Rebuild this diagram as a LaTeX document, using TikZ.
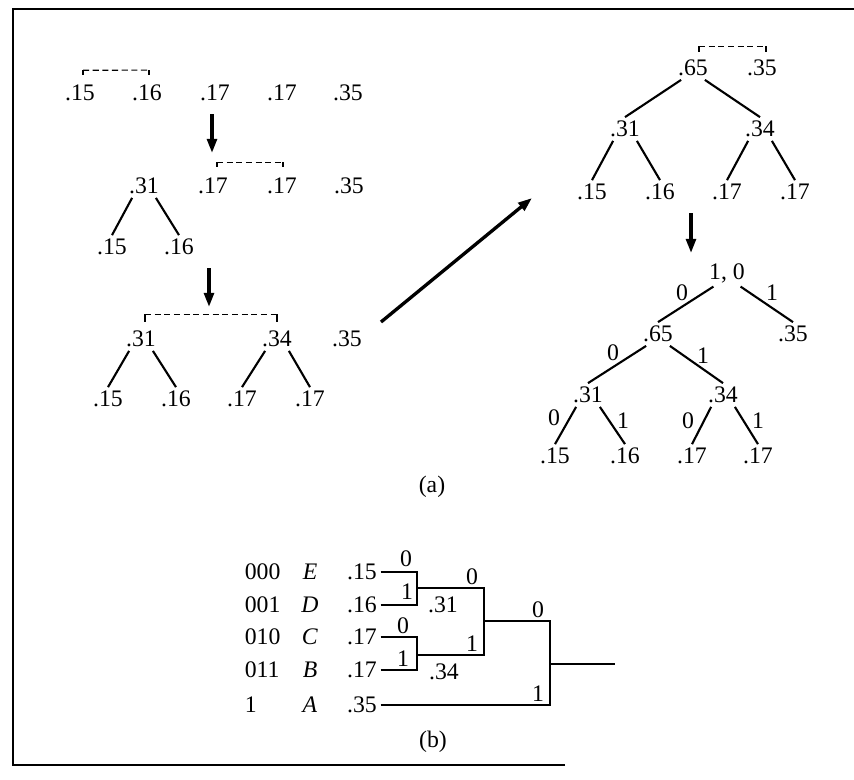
\documentclass[tikz,border=0pt]{standalone}
\usepackage{fontspec}
\setmainfont{Liberation Serif}
\usetikzlibrary{arrows.meta,calc,positioning}

\begin{document}
\begin{tikzpicture}[x=0.02cm, y=-0.02cm,
    num/.style={font=\fontsize{13.5}{16}\selectfont, inner sep=2pt},
    bit/.style={font=\fontsize{13.5}{16}\selectfont, inner sep=1pt},
    branch/.style={line width=1.2pt},
    wire/.style={line width=1.3pt},
    tickline/.style={line width=0.7pt},
    grp/.style={line width=0.7pt, dash pattern=on 3.5pt off 2pt},
    steparrow/.style={-{Triangle[length=8pt,width=5.5pt]}, line width=1.9pt}
]
  \useasboundingbox (0,0) rectangle (854,779);
  % frame
  \draw[line width=1.2pt] (565,765) -- (13,765) -- (13,9) -- (854,9);

  % (a) left: first step
  \node[num, name=a15] at (80,93) {.15};
  \node[num, name=a16] at (147,93) {.16};
  \node[num, name=a17] at (215,93) {.17};
  \node[num, name=a17b] at (282,93) {.17};
  \node[num, name=a35] at (348,93) {.35};
  \coordinate (g1l) at ($(a15.north)+(3,-11)$);
  \coordinate (g1r) at ($(a16.north)+(2,-11)$);
  \draw[grp] (g1l) -- (g1r);
  \draw[tickline] (g1l) -- ++(0,5) (g1r) -- ++(0,5);

  \coordinate (s1) at (212,114);
  \coordinate (e1) at (212,153);
  \draw[steparrow] (s1) -- (e1);

  % second step
  \node[num, name=b31] at (144,186) {.31};
  \node[num, name=b17] at (213,186) {.17};
  \node[num, name=b17b] at (282,186) {.17};
  \node[num, name=b35] at (349,186) {.35};
  \node[num, name=b15] at (112,247) {.15};
  \node[num, name=b16] at (179,247) {.16};
  \draw[branch] (b31.-135) -- (b15.north);
  \draw[branch] (b31.-45) -- (b16.north);
  \coordinate (g2l) at ($(b17.north)+(4,-12)$);
  \coordinate (g2r) at ($(b17b.north)+(1,-12)$);
  \draw[grp] (g2l) -- (g2r);
  \draw[tickline] (g2l) -- ++(0,5) (g2r) -- ++(0,5);

  \coordinate (s2) at (209,268);
  \coordinate (e2) at (209,307);
  \draw[steparrow] (s2) -- (e2);

  % third step
  \node[num, name=d31] at (141,339) {.31};
  \node[num, name=d34] at (277,339) {.34};
  \node[num, name=d35] at (347,339) {.35};
  \node[num, name=d15] at (108,399) {.15};
  \node[num, name=d16] at (176,399) {.16};
  \node[num, name=d17] at (242,399) {.17};
  \node[num, name=d17b] at (310,399) {.17};
  \draw[branch] (d31.-135) -- (d15.north);
  \draw[branch] (d31.-45) -- (d16.north);
  \draw[branch] (d34.-135) -- (d17.north);
  \draw[branch] (d34.-45) -- (d17b.north);
  \coordinate (g3l) at ($(d31.north)+(4,-13)$);
  \coordinate (g3r) at ($(d34.north)+(0,-13)$);
  \draw[grp] (g3l) -- (g3r);
  \draw[tickline] (g3l) -- ++(0,8) (g3r) -- ++(0,8);

  \coordinate (s3) at (381,322);
  \coordinate (e3) at (532,198);
  \draw[steparrow] (s3) -- (e3);

  % (a) right: last merge
  \node[num, name=t65] at (693,68) {.65};
  \node[num, name=t35] at (762,68) {.35};
  \node[num, name=t31] at (625,129) {.31};
  \node[num, name=t34] at (760,129) {.34};
  \node[num, name=t15] at (592,192) {.15};
  \node[num, name=t16] at (660,192) {.16};
  \node[num, name=t17] at (727,192) {.17};
  \node[num, name=t17b] at (795,192) {.17};
  \draw[branch] (t65.-135) -- (t31.north);
  \draw[branch] (t65.-45) -- (t34.north);
  \draw[branch] (t31.-135) -- (t15.north);
  \draw[branch] (t31.-45) -- (t16.north);
  \draw[branch] (t34.-135) -- (t17.north);
  \draw[branch] (t34.-45) -- (t17b.north);
  \coordinate (g4l) at ($(t65.north)+(6,-10)$);
  \coordinate (g4r) at ($(t35.north)+(4,-10)$);
  \draw[grp] (g4l) -- (g4r);
  \draw[tickline] (g4l) -- ++(0,6) (g4r) -- ++(0,6);

  \coordinate (s4) at (691,213);
  \coordinate (e4) at (691,253);
  \draw[steparrow] (s4) -- (e4);

  % coded tree
  \node[num, name=c10] at (727,273) {1, 0};
  \node[num, name=c65] at (658,334) {.65};
  \node[num, name=c35] at (793,334) {.35};
  \node[num, name=c31] at (588,395) {.31};
  \node[num, name=c34] at (723,395) {.34};
  \node[num, name=c15] at (555,456) {.15};
  \node[num, name=c16] at (625,456) {.16};
  \node[num, name=c17] at (692,456) {.17};
  \node[num, name=c17b] at (758,456) {.17};
  \draw[branch] (c10.-135) -- (c65.north);
  \draw[branch] (c10.-45) -- (c35.north);
  \draw[branch] (c65.-135) -- (c31.north);
  \draw[branch] (c65.-45) -- (c34.north);
  \draw[branch] (c31.-135) -- (c15.north);
  \draw[branch] (c31.-45) -- (c16.north);
  \draw[branch] (c34.-135) -- (c17.north);
  \draw[branch] (c34.-45) -- (c17b.north);
  \node[bit, name=k1] at (682,293) {0};
  \node[bit, name=k2] at (772,293) {1};
  \node[bit, name=k3] at (613,353) {0};
  \node[bit, name=k4] at (703,356) {1};
  \node[bit, name=k5] at (554,418) {0};
  \node[bit, name=k6] at (623,421) {1};
  \node[bit, name=k7] at (688,421) {0};
  \node[bit, name=k8] at (758,421) {1};

  \node[num, name=capa] at (432,487) {(a)};

  % (b) code table
  \node[num, anchor=west, name=wE] at (241,572) {000};
  \node[num, anchor=west, name=wD] at (241,605) {001};
  \node[num, anchor=west, name=wC] at (241,637) {010};
  \node[num, anchor=west, name=wB] at (241,670) {011};
  \node[num, anchor=west, name=wA] at (241,705) {1};
  \node[num, name=lE] at (310,572) {\textit{E}};
  \node[num, name=lD] at (310,605) {\textit{D}};
  \node[num, name=lC] at (310,637) {\textit{C}};
  \node[num, name=lB] at (310,670) {\textit{B}};
  \node[num, name=lA] at (310,705) {\textit{A}};
  \node[num, name=vE] at (362,572) {.15};
  \node[num, name=vD] at (362,605) {.16};
  \node[num, name=vC] at (362,637) {.17};
  \node[num, name=vB] at (362,670) {.17};
  \node[num, name=vA] at (362,705) {.35};

  \coordinate (jED) at (417,588);
  \coordinate (jCB) at (417,655);
  \coordinate (jL) at (484,621);
  \coordinate (jR) at (550,664);
  \coordinate (out) at (615,664);
  \draw[wire] (vE) -| (jED);
  \draw[wire] (vD) -| (jED);
  \draw[wire] (vC) -| (jCB);
  \draw[wire] (vB) -| (jCB);
  \draw[wire] (jED) -| (jL);
  \draw[wire] (jCB) -| (jL);
  \draw[wire] (jL) -| (jR);
  \draw[wire] (vA) -| (jR);
  \draw[wire] (jR) -- (out);

  \node[bit, name=m1] at (406,559) {0};
  \node[bit, name=m2] at (407,592) {1};
  \node[num, name=m31] at (443,605) {.31};
  \node[bit, name=m3] at (472,577) {0};
  \node[bit, name=m4] at (403,626) {0};
  \node[bit, name=m5] at (403,659) {1};
  \node[num, name=m34] at (444,672) {.34};
  \node[bit, name=m6] at (472,644) {1};
  \node[bit, name=m7] at (538,610) {0};
  \node[bit, name=m8] at (538,694) {1};

  \node[num, name=capb] at (433,742) {(b)};
\end{tikzpicture}
\end{document}
